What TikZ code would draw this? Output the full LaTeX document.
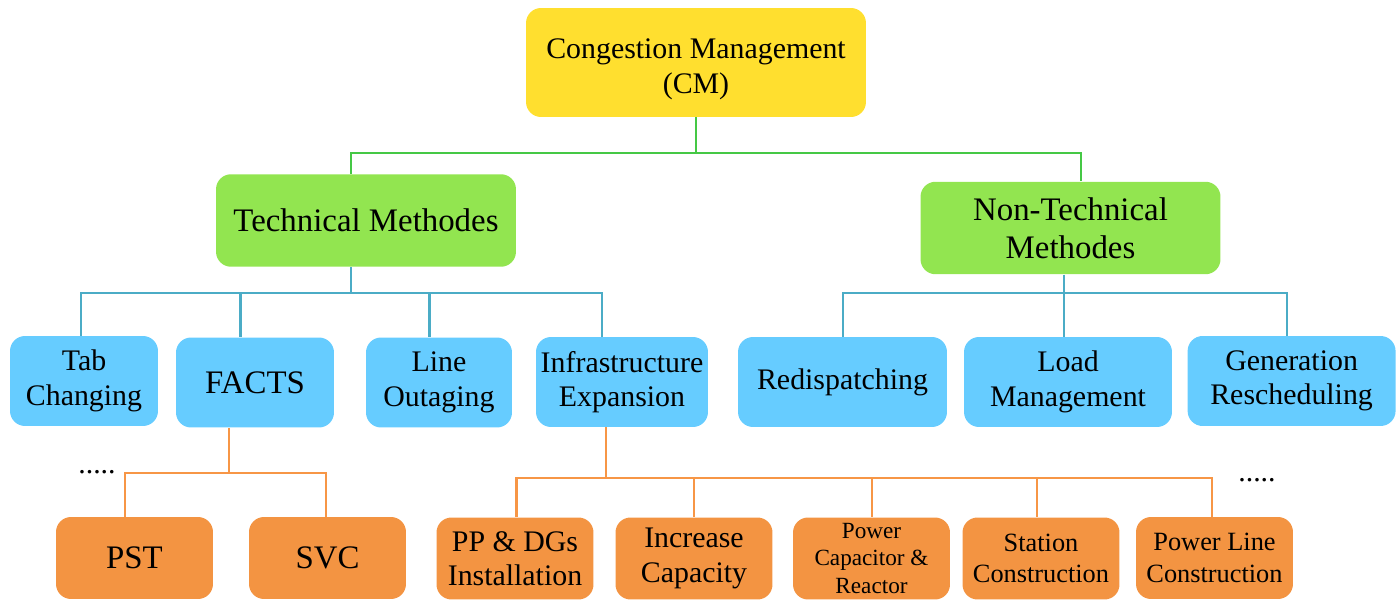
\documentclass[tikz,border=0pt]{standalone}
\usepackage{fontspec}
\setmainfont{Liberation Serif}
\usetikzlibrary{calc}

\definecolor{cmyellow}{HTML}{FFDF2F}
\definecolor{methgreen}{HTML}{92E550}
\definecolor{subblue}{HTML}{66CCFF}
\definecolor{leaforange}{HTML}{F39442}
\definecolor{glinecol}{HTML}{45C845}
\definecolor{blinecol}{HTML}{4BACC6}
\definecolor{olinecol}{HTML}{F79646}

\tikzset{
  boxbase/.style={rounded corners=0.3cm, inner sep=0pt, align=center,
    font=\fontsize{17}{19.6}\selectfont},
  cmbox/.style={boxbase, fill=cmyellow, minimum width=6.8cm, minimum height=2.18cm},
  methbox/.style={boxbase, fill=methgreen, minimum width=6cm, minimum height=1.85cm,
    font=\fontsize{18.7}{21.5}\selectfont},
  subbox/.style={boxbase, fill=subblue, minimum height=1.8cm},
  leafbox/.style={boxbase, fill=leaforange, minimum width=3.14cm, minimum height=1.64cm},
  gline/.style={glinecol, line width=1.2pt},
  bline/.style={blinecol, line width=1.3pt},
  oline/.style={olinecol, line width=1.2pt},
  big/.style={font=\fontsize{18.7}{21.5}\selectfont}
}

\begin{document}
\begin{tikzpicture}[x=0.02cm, y=-0.02cm]
    \useasboundingbox (0,0) rectangle (1397,601);
    % Root
    \node[cmbox] (cm) at (696,62.5) {\rule{0pt}{19.2pt}Congestion Management\\(CM)};
    % Methods
    \node[methbox] (tech) at (366,220.5) {Technical Methodes};
    \node[methbox] (nontech) at (1070.5,228) {Non-Technical\\Methodes};
    % Technical sub-methods
    \node[subbox, minimum width=2.96cm] (tab) at (84,381) {Tab\\Changing};
    \node[subbox, big, minimum width=3.16cm] (facts) at (255,382.5) {FACTS};
    \node[subbox, minimum width=2.92cm] (line) at (439,382.5) {Line\\Outaging};
    \node[subbox, minimum width=3.44cm] (infra) at (622,382) {Infrastructure\\Expansion};
    % Non-technical sub-methods
    \node[subbox, minimum width=4.18cm] (redisp) at (842.5,382) {Redispatching};
    \node[subbox, minimum width=4.16cm] (load) at (1068,382) {Load\\Management};
    \node[subbox, minimum width=4.16cm] (gen) at (1291.6,381) {Generation\\Rescheduling};
    % Leaves
    \node[leafbox, big] (pst) at (134.5,558) {PST};
    \node[leafbox, big] (svc) at (327.5,558) {SVC};
    \node[leafbox] (ppdg) at (515,558.5) {PP \& DGs\\Installation};
    \node[leafbox] (incr) at (694,558.5) {Increase\\Capacity};
    \node[leafbox, font=\fontsize{13.2}{15.6}\selectfont] (powcap) at (871.5,558.5) {Power\\Capacitor \&\\Reactor};
    \node[leafbox, font=\fontsize{15}{17.8}\selectfont] (station) at (1041,558.5) {Station\\Construction};
    \node[leafbox, font=\fontsize{15}{17.8}\selectfont] (powline) at (1214.5,558) {Power Line\\Construction};
    % Dots
    \node[anchor=base, inner sep=0pt, font=\fontsize{17}{19.6}\selectfont] (dotsl) at (97,473) {.....};
    \node[anchor=base, inner sep=0pt, font=\fontsize{17}{19.6}\selectfont] (dotsr) at (1257,481) {.....};
    % Bus points
    \coordinate (gl) at (351,153); \coordinate (gr) at (1081,153);
    \coordinate (t0) at (351,293); \coordinate (t1) at (81,293); \coordinate (t2) at (240.6,293);
    \coordinate (t3) at (429.5,293); \coordinate (t4) at (602,293);
    \coordinate (n0) at (1064,293); \coordinate (n1) at (843,293); \coordinate (n3) at (1287,293);
    \coordinate (f0) at (228.6,473); \coordinate (f1) at (125,473); \coordinate (f2) at (326,473);
    \coordinate (i0) at (606,478); \coordinate (i1) at (516.5,478); \coordinate (i2) at (694,478);
    \coordinate (i3) at (871.6,478); \coordinate (i4) at (1037,478); \coordinate (i5) at (1211.6,478);
    % Green connectors
    \draw[gline] (cm.south) -- (cm.south |- gl);
    \draw[gline] (gl |- tech.north) -- (gl) -- (gr) -- (gr |- nontech.north);
    % Blue connectors
    \draw[bline] (t0 |- tech.south) -- (t0);
    \draw[bline] (t1 |- tab.north) -- (t1) -- (t4) -- (t4 |- infra.north);
    \draw[bline] (t2) -- (t2 |- facts.north);
    \draw[bline] (t3) -- (t3 |- line.north);
    \draw[bline] (n0 |- nontech.south) -- (n0) -- (n0 |- load.north);
    \draw[bline] (n1 |- redisp.north) -- (n1) -- (n3) -- (n3 |- gen.north);
    % Orange connectors
    \draw[oline] (f0 |- facts.south) -- (f0);
    \draw[oline] (f1 |- pst.north) -- (f1) -- (f2) -- (f2 |- svc.north);
    \draw[oline] (i0 |- infra.south) -- (i0);
    \draw[oline] (i1 |- ppdg.north) -- (i1) -- (i5) -- (i5 |- powline.north);
    \draw[oline] (i2) -- (i2 |- incr.north);
    \draw[oline] (i3) -- (i3 |- powcap.north);
    \draw[oline] (i4) -- (i4 |- station.north);
\end{tikzpicture}
\end{document}
